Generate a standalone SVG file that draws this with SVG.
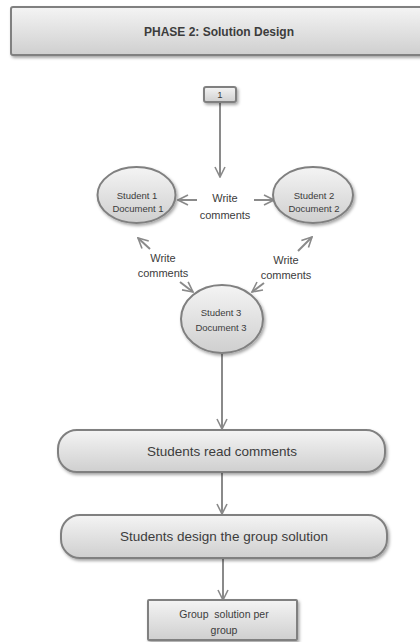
<svg xmlns="http://www.w3.org/2000/svg" width="420" height="642" viewBox="0 0 420 642">
<style>
.shape{fill:url(#g);stroke:#808080;stroke-width:2;filter:url(#sh)}
.t{font-family:"Liberation Sans",Arial,sans-serif;fill:#3c3c3c;text-anchor:middle}
.s{font-size:9.5px}
.m{font-size:11px}
.b{font-size:13.5px}
.c{stroke:#8a8a8a;stroke-width:2;fill:none;marker-end:url(#ah)}
</style>
<defs>
<linearGradient id="g" x1="0" y1="0" x2="0" y2="1">
<stop offset="0" stop-color="#f4f4f4"/>
<stop offset="1" stop-color="#cfcfcf"/>
</linearGradient>
<filter id="sh" x="-10%" y="-20%" width="130%" height="160%">
<feDropShadow dx="1.5" dy="2" stdDeviation="1.5" flood-color="#000" flood-opacity="0.35"/>
</filter>
<marker id="ah" markerWidth="12" markerHeight="12" viewBox="0 0 12 12" refX="11" refY="6" orient="auto" markerUnits="userSpaceOnUse">
<path d="M1,1 L11,6 L1,11" fill="none" stroke="#8a8a8a" stroke-width="1.6"/>
</marker>
</defs>
<g id="connectors">
<line class="c" x1="220" y1="103" x2="220" y2="177"/>
<line class="c" x1="197" y1="200" x2="178" y2="200"/>
<line class="c" x1="254" y1="200" x2="274" y2="200"/>
<line class="c" x1="150" y1="249" x2="138" y2="238"/>
<line class="c" x1="180" y1="282" x2="193" y2="292"/>
<line class="c" x1="298" y1="251" x2="312" y2="237"/>
<line class="c" x1="264" y1="283" x2="252" y2="292"/>
<line class="c" x1="222" y1="354" x2="222" y2="429"/>
<line class="c" x1="222" y1="473" x2="222" y2="514"/>
<line class="c" x1="223" y1="559" x2="223" y2="600"/>
</g>
<g id="title">
<rect class="shape" x="11" y="7" width="420" height="48" rx="2"/>
<text class="t" x="219" y="36" style="font-size:12px;font-weight:bold">PHASE 2: Solution Design</text>
</g>
<g id="n1">
<rect class="shape" x="204" y="87" width="32" height="15" rx="2"/>
<text class="t s" x="220" y="98">1</text>
</g>
<g id="student1">
<ellipse class="shape" cx="136.5" cy="195" rx="39" ry="28"/>
<text class="t s" x="137" y="199">Student 1</text>
<text class="t s" x="138" y="212">Document 1</text>
</g>
<g id="student2">
<ellipse class="shape" cx="313" cy="195" rx="40" ry="28"/>
<text class="t s" x="314" y="199">Student 2</text>
<text class="t s" x="314" y="212">Document 2</text>
</g>
<g id="student3">
<ellipse class="shape" cx="222" cy="319" rx="41" ry="34"/>
<text class="t s" x="221" y="316">Student 3</text>
<text class="t s" x="221" y="331">Document 3</text>
</g>
<g id="lbl-top">
<text class="t m" x="225" y="202">Write</text>
<text class="t m" x="225" y="219">comments</text>
</g>
<g id="lbl-left">
<text class="t m" x="163" y="262">Write</text>
<text class="t m" x="163" y="277">comments</text>
</g>
<g id="lbl-right">
<text class="t m" x="286" y="264">Write</text>
<text class="t m" x="286" y="279">comments</text>
</g>
<g id="read">
<rect class="shape" x="58" y="430" width="327" height="42" rx="19"/>
<text class="t b" x="222" y="456">Students read comments</text>
</g>
<g id="design">
<rect class="shape" x="61" y="515" width="326" height="43" rx="19"/>
<text class="t b" x="224" y="541">Students design the group solution</text>
</g>
<g id="result">
<rect class="shape" x="148" y="600" width="149" height="40" rx="1"/>
<text class="t" x="224" y="618" style="font-size:10.5px" xml:space="preserve">Group  solution per</text>
<text class="t" x="224" y="634" style="font-size:10.5px">group</text>
</g>
</svg>
